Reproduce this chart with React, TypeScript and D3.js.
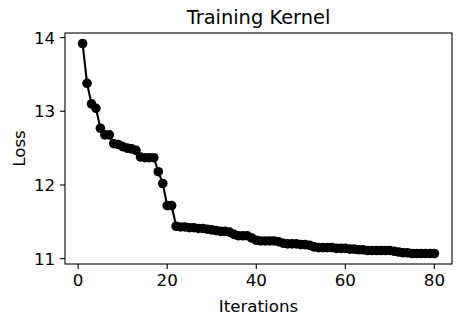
import * as d3 from 'd3';

// loss per iteration (iterations 1..80)
const iterations = d3.range(1, 81);
const losses = [
  13.92, 13.38, 13.10, 13.04, 12.77, 12.68, 12.68, 12.56, 12.55, 12.52,
  12.50, 12.49, 12.47, 12.38, 12.37, 12.37, 12.37, 12.18, 12.02, 11.72,
  11.72, 11.44, 11.43, 11.43, 11.42, 11.42, 11.41, 11.41, 11.40, 11.39,
  11.38, 11.37, 11.37, 11.36, 11.33, 11.31, 11.31, 11.31, 11.28, 11.25,
  11.24, 11.24, 11.24, 11.24, 11.23, 11.21, 11.20, 11.20, 11.20, 11.19,
  11.19, 11.18, 11.16, 11.15, 11.15, 11.15, 11.15, 11.14, 11.14, 11.14,
  11.13, 11.13, 11.12, 11.12, 11.11, 11.11, 11.11, 11.11, 11.11, 11.11,
  11.10, 11.09, 11.08, 11.08, 11.07, 11.07, 11.07, 11.07, 11.07, 11.07,
];
const xTicks = [0, 20, 40, 60, 80];
const yTicks = [11, 12, 13, 14];

const width = 462;
const height = 325;
const box = { left: 65, right: 452, top: 33, bottom: 264 };
const font = 'DejaVu Sans, sans-serif';
const fs = 16.7;

export default function App() {
  // matplotlib-like 5% margins around the data
  const xPad = (80 - 1) * 0.05;
  const yMin = d3.min(losses)!;
  const yMax = d3.max(losses)!;
  const yPad = (yMax - yMin) * 0.05;

  const x = d3.scaleLinear().domain([1 - xPad, 80 + xPad]).range([box.left, box.right]);
  const y = d3.scaleLinear().domain([yMin - yPad, yMax + yPad]).range([box.bottom, box.top]);

  const line = d3
    .line<number>()
    .x((_, i) => x(iterations[i]))
    .y((d) => y(d));

  const tickLen = 4.9;

  return (
    <svg
      width={width}
      height={height}
      style={{ position: 'absolute', left: 0, top: 0, background: 'white' }}
    >
      <text
        x={(box.left + box.right) / 2}
        y={24}
        textAnchor="middle"
        fontFamily={font}
        fontSize={19.4}
      >
        Training Kernel
      </text>

      <path d={line(losses) ?? ''} fill="none" stroke="black" strokeWidth={2.1} />
      {losses.map((d, i) => (
        <circle key={i} cx={x(iterations[i])} cy={y(d)} r={4.8} fill="black" />
      ))}

      <rect
        x={box.left}
        y={box.top}
        width={box.right - box.left}
        height={box.bottom - box.top}
        fill="none"
        stroke="black"
        strokeWidth={1.1}
      />

      {xTicks.map((t) => (
        <g key={t} transform={`translate(${x(t)},${box.bottom})`}>
          <line y2={tickLen} stroke="black" strokeWidth={1.1} />
          <text y={tickLen + 4.9} dy="0.76em" textAnchor="middle" fontFamily={font} fontSize={fs}>
            {t}
          </text>
        </g>
      ))}
      {yTicks.map((t) => (
        <g key={t} transform={`translate(${box.left},${y(t)})`}>
          <line x2={-tickLen} stroke="black" strokeWidth={1.1} />
          <text x={-tickLen - 4.9} dy="0.36em" textAnchor="end" fontFamily={font} fontSize={fs}>
            {t}
          </text>
        </g>
      ))}

      <text
        x={(box.left + box.right) / 2}
        y={312}
        textAnchor="middle"
        fontFamily={font}
        fontSize={fs}
      >
        Iterations
      </text>
      <text
        transform={`translate(25,${(box.top + box.bottom) / 2}) rotate(-90)`}
        textAnchor="middle"
        fontFamily={font}
        fontSize={fs}
      >
        Loss
      </text>
    </svg>
  );
}
